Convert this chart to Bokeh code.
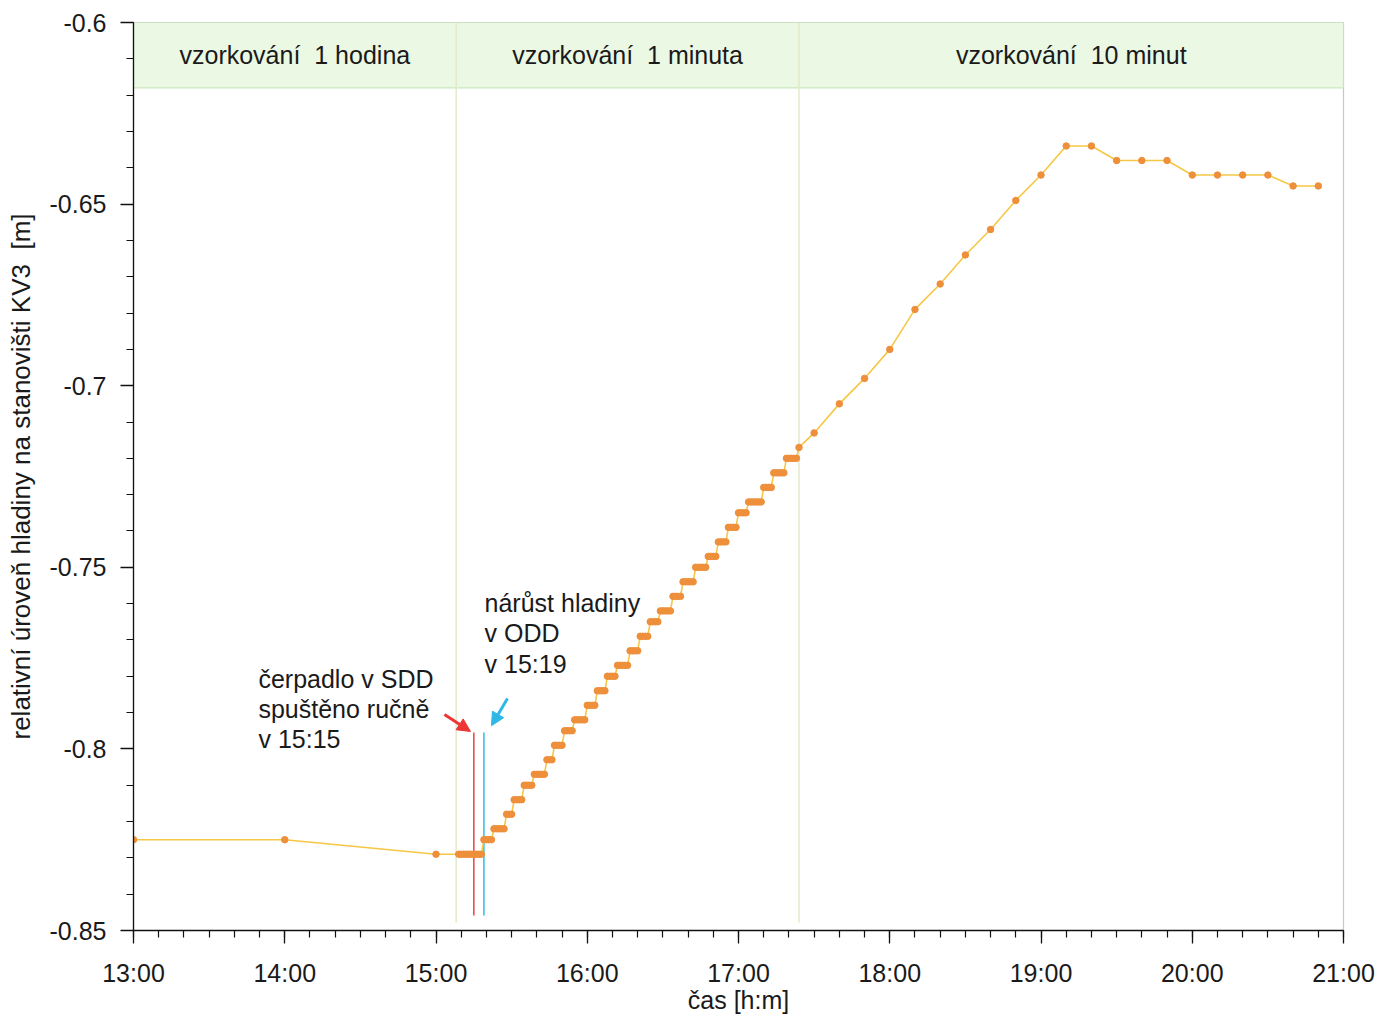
from bokeh.plotting import figure
from bokeh.models import Range1d, FixedTicker, Label, Arrow, NormalHead, PrintfTickFormatter
from bokeh.embed import file_html
from bokeh.resources import INLINE
from bokeh.core.properties import value

FONT = "Liberation Sans"

# ---- data ----
hour_times = ["13:00", "14:00", "15:00"]
hour_levels = [-0.825, -0.825, -0.829]

# 1-minute sampling, given as runs of equal readings (start, end, level)
step_start = ["15:09", "15:19", "15:23", "15:28", "15:31", "15:35", "15:39", "15:44",
              "15:47", "15:51", "15:55", "16:00", "16:04", "16:08", "16:12", "16:17",
              "16:21", "16:25", "16:29", "16:34", "16:38", "16:43", "16:48", "16:52",
              "16:56", "17:00", "17:04", "17:10", "17:14", "17:19", "17:24"]
step_end = ["15:18", "15:22", "15:27", "15:30", "15:34", "15:38", "15:43", "15:46",
            "15:50", "15:54", "15:59", "16:03", "16:07", "16:11", "16:16", "16:20",
            "16:24", "16:28", "16:33", "16:37", "16:42", "16:47", "16:51", "16:55",
            "16:59", "17:03", "17:09", "17:13", "17:18", "17:23", "17:24"]
step_level = [-0.829, -0.825, -0.822, -0.818, -0.814, -0.810, -0.807, -0.803,
              -0.799, -0.795, -0.792, -0.788, -0.784, -0.780, -0.777, -0.773,
              -0.769, -0.765, -0.762, -0.758, -0.754, -0.750, -0.747, -0.743,
              -0.739, -0.735, -0.732, -0.728, -0.724, -0.720, -0.717]

ten_times = ["17:30", "17:40", "17:50", "18:00", "18:10", "18:20", "18:30", "18:40",
             "18:50", "19:00", "19:10", "19:20", "19:30", "19:40", "19:50", "20:00",
             "20:10", "20:20", "20:30", "20:40", "20:50"]
ten_levels = [-0.713, -0.705, -0.698, -0.690, -0.679, -0.672, -0.664, -0.657,
              -0.649, -0.642, -0.634, -0.634, -0.638, -0.638, -0.638, -0.642,
              -0.642, -0.642, -0.642, -0.645, -0.645]

section_names = ["vzorkování\u00a0 1 hodina", "vzorkování\u00a0 1 minuta", "vzorkování\u00a0 10 minut"]
section_bounds = ["13:00", "15:08", "17:24", "21:00"]

pump_time = "15:15"
rise_time = "15:19"
pump_text = "čerpadlo v SDD\nspuštěno ručně\nv 15:15"
rise_text = "nárůst hladiny\nv ODD\nv 15:19"

x_ticks = [13, 14, 15, 16, 17, 18, 19, 20, 21]
x_tick_labels = ["13:00", "14:00", "15:00", "16:00", "17:00", "18:00", "19:00", "20:00", "21:00"]
y_ticks = [-0.85, -0.8, -0.75, -0.7, -0.65, -0.6]


def hrs(t):
    h, m = t.split(":")
    return int(h) + int(m) / 60.0


def mins(t):
    h, m = t.split(":")
    return int(h) * 60 + int(m)


# assemble series
xs = [hrs(t) for t in hour_times]
ys = list(hour_levels)
for s, e, lv in zip(step_start, step_end, step_level):
    for m in range(mins(s), mins(e) + 1):
        xs.append(m / 60.0)
        ys.append(lv)
xs += [hrs(t) for t in ten_times]
ys += list(ten_levels)

p = figure(width=1379, height=1016, output_backend="svg", toolbar_location=None,
           x_range=Range1d(13, 21), y_range=Range1d(-0.85, -0.6),
           min_border_left=133, min_border_right=36, min_border_top=22, min_border_bottom=86)
p.xgrid.visible = False
p.ygrid.visible = False
p.outline_line_color = "#C8C8C8"
p.outline_line_width = 1.2
p.background_fill_color = "white"
p.border_fill_color = "white"

# green header band
band_bottom = -0.618
p.quad(left=hrs(section_bounds[0]), right=hrs(section_bounds[-1]), bottom=band_bottom, top=-0.6,
       fill_color="#EAF8E4", line_color="#CBE6BE", line_width=1.2)
sep_x = [hrs(t) for t in section_bounds[1:-1]]
p.segment(x0=sep_x, y0=[-0.8478] * len(sep_x), x1=sep_x, y1=[-0.6] * len(sep_x),
          line_color="#E3EACB", line_width=1.5)
centers = [(hrs(a) + hrs(b)) / 2 for a, b in zip(section_bounds[:-1], section_bounds[1:])]
p.text(x=centers, y=[(band_bottom - 0.6) / 2] * 3, text=section_names,
       text_align="center", text_baseline="middle", text_font=value(FONT),
       text_font_size="25px", text_color="#1a1a1a")

# event lines
red = "#EE3535"
cyan = "#2EB8E6"
p.segment(x0=[hrs(pump_time)], y0=[-0.7955], x1=[hrs(pump_time)], y1=[-0.8459],
          line_color="#F04C4C", line_width=1.6)
p.segment(x0=[hrs(rise_time)], y0=[-0.7955], x1=[hrs(rise_time)], y1=[-0.8459],
          line_color="#3CC3E3", line_width=1.6)

# data series
p.line(xs, ys, line_color="#F6C645", line_width=1.6)
p.scatter(xs, ys, size=6.5, marker="circle", fill_color="#EE8F3B", line_color="#EE8F3B")

# arrows
p.add_layout(Arrow(end=NormalHead(size=13, fill_color=red, line_color=red),
                   x_start=hrs(pump_time) - 0.194, y_start=-0.7905,
                   x_end=hrs(pump_time) - 0.022, y_end=-0.7952,
                   line_color=red, line_width=3))
p.add_layout(Arrow(end=NormalHead(size=13, fill_color=cyan, line_color=cyan),
                   x_start=hrs(rise_time) + 0.156, y_start=-0.7861,
                   x_end=hrs(rise_time) + 0.05, y_end=-0.7936,
                   line_color=cyan, line_width=3))

# annotation texts
p.add_layout(Label(x=13.826, y=-0.7768, text=pump_text, text_baseline="top",
                   text_align="left", text_font=FONT, text_font_size="25px",
                   text_color="#1a1a1a", text_line_height=1.08))
p.add_layout(Label(x=15.321, y=-0.7560, text=rise_text, text_baseline="top",
                   text_align="left", text_font=FONT, text_font_size="25px",
                   text_color="#1a1a1a", text_line_height=1.08))

# axes
xa = p.xaxis[0]
xa.ticker = FixedTicker(ticks=x_ticks, minor_ticks=[13 + k / 6 for k in range(49)])
xa.major_label_overrides = dict(zip(x_ticks, x_tick_labels))
xa.axis_label = "čas [h:m]"
xa.major_label_standoff = 15
xa.axis_label_standoff = -4

ya = p.yaxis[0]
ya.ticker = FixedTicker(ticks=y_ticks, minor_ticks=[round(-0.85 + 0.01 * k, 2) for k in range(26)])
ya.formatter = PrintfTickFormatter(format="%g")
ya.axis_label = "relativní úroveň hladiny na stanovišti KV3\u00a0 [m]"
ya.major_label_standoff = 14
ya.axis_label_standoff = 11

for ax in (xa, ya):
    ax.axis_line_color = "#111111"
    ax.axis_line_width = 1.3
    ax.major_tick_line_color = "#111111"
    ax.major_tick_line_width = 1.3
    ax.minor_tick_line_color = "#111111"
    ax.minor_tick_line_width = 1.2
    ax.major_tick_in = 0
    ax.major_tick_out = 13
    ax.minor_tick_in = 0
    ax.minor_tick_out = 7
    ax.major_label_text_font = FONT
    ax.major_label_text_font_size = "25px"
    ax.major_label_text_color = "#1a1a1a"
    ax.axis_label_text_font = FONT
    ax.axis_label_text_font_size = "25px"
    ax.axis_label_text_font_style = "normal"
    ax.axis_label_text_color = "#1a1a1a"
ya.axis_label_text_font_size = "26px"

open("out.html", "w").write(file_html(p, INLINE))
